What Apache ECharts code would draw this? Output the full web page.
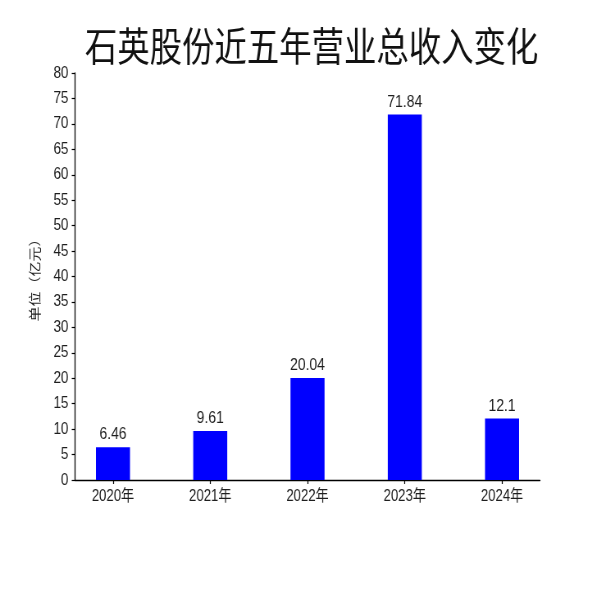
<!DOCTYPE html>
<html>
<head>
<meta charset="utf-8">
<script src="https://cdn.jsdelivr.net/npm/echarts@6/dist/echarts.min.js"></script>
<style>
  html, body { margin: 0; padding: 0; background: #ffffff; overflow: hidden; }
  #wrap { width: 600px; height: 600px; overflow: hidden; position: relative; }
  #chart { width: 732px; height: 600px; transform: scaleX(0.82); transform-origin: 0 0; }
</style>
</head>
<body>
<div id="wrap"><div id="chart"></div></div>
<script>
const titleText = '石英股份近五年营业总收入变化';
const yAxisName = '单位（亿元）';
const categories = ['2020年', '2021年', '2022年', '2023年', '2024年'];
const revenue = [6.46, 9.61, 20.04, 71.84, 12.1];
const yMin = 0, yMax = 80, yStep = 5;

const chart = echarts.init(document.getElementById('chart'), null, { width: 732, height: 600, renderer: 'canvas' });
const textColor = '#1e1e1e';
const font = '"Liberation Sans", "Noto Sans CJK SC", sans-serif';
const positions = categories.map((c, i) => i);

chart.setOption({
  backgroundColor: '#ffffff',
  animation: false,
  title: {
    text: titleText,
    left: 375,
    textAlign: 'center',
    top: 21,
    textStyle: { fontSize: 39.5, fontWeight: 'normal', color: '#111', fontFamily: '"Noto Sans CJK SC", sans-serif' }
  },
  grid: { left: 91.5, right: 73.5, top: 73, bottom: 120, containLabel: false },
  xAxis: {
    type: 'value',
    min: -0.39,
    max: 4.39,
    splitLine: { show: false },
    axisLine: { show: true, onZero: false, lineStyle: { color: '#000', width: 1.3 } },
    axisTick: { show: true, length: 4, customValues: positions, lineStyle: { color: '#000', width: 1.2 } },
    axisLabel: {
      customValues: positions,
      formatter: v => categories[Math.round(v)] || '',
      fontSize: 16, color: textColor, margin: 9, fontFamily: font
    }
  },
  yAxis: {
    type: 'value',
    min: yMin, max: yMax, interval: yStep,
    name: yAxisName,
    nameLocation: 'middle',
    nameRotate: 90,
    nameGap: 40,
    nameTextStyle: { fontSize: 15, color: textColor, fontFamily: font },
    splitLine: { show: false },
    axisLine: { show: true, onZero: false, lineStyle: { color: '#000', width: 1.3 } },
    axisTick: { show: true, length: 4, lineStyle: { color: '#000', width: 1.2 } },
    axisLabel: { fontSize: 16.5, color: textColor, margin: 8, fontFamily: font }
  },
  series: [{
    type: 'bar',
    barWidth: 41.5,
    data: revenue.map((v, i) => [i, v]),
    itemStyle: { color: '#0000ff' },
    label: {
      show: true, position: 'top', distance: 4,
      fontSize: 17, color: textColor, fontFamily: font,
      formatter: p => String(p.value[1])
    }
  }]
});
</script>
</body>
</html>
